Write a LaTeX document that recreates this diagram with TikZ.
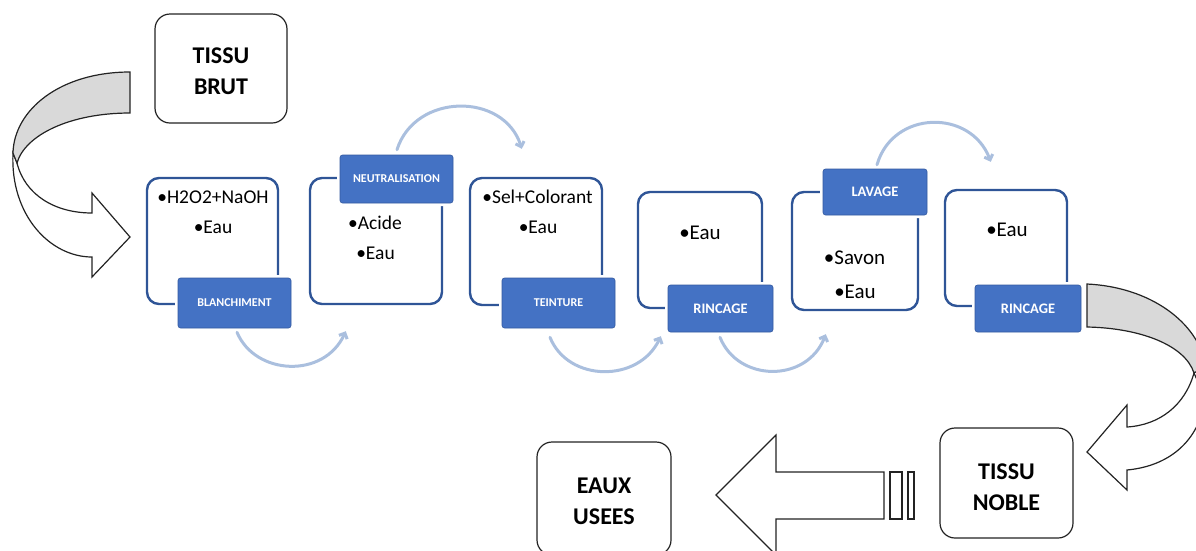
\documentclass[tikz,border=0pt]{standalone}
\usepackage{fontspec}
\setmainfont{Carlito}
\usetikzlibrary{arrows.meta,calc}

\definecolor{boxblue}{RGB}{47,85,151}
\definecolor{tagblue}{RGB}{68,114,196}
\definecolor{tagedge}{RGB}{52,90,160}
\definecolor{flowblue}{RGB}{170,191,222}
\definecolor{bandgray}{RGB}{217,217,217}
\definecolor{edgegray}{RGB}{35,35,35}

\begin{document}
\begin{tikzpicture}[x=1pt,y=-1pt,
  endbox/.style={draw=edgegray, line width=1.2pt, rounded corners=15pt, fill=white, inner sep=0pt},
  endtext/.style={align=center, inner sep=0pt, font=\fontsize{24}{31}\selectfont\bfseries},
  stagebox/.style={draw=boxblue, line width=2.4pt, rounded corners=12pt, inner sep=0pt},
  tag/.style={preaction={draw=white, fill=white, line width=6pt},
    fill=tagblue, draw=tagedge, line width=0.6pt, rounded corners=2.5pt,
    text=white, inner sep=0pt},
  smalltag/.style={tag, font=\fontsize{12}{14}\selectfont\bfseries},
  bigtag/.style={tag, font=\fontsize{14.5}{17}\selectfont\bfseries},
  itemA/.style={inner sep=0pt, font=\fontsize{19.5}{23}\selectfont},
  itemB/.style={inner sep=0pt, font=\fontsize{21}{25}\selectfont},
  flow/.style={draw=flowblue, line width=3pt, line cap=round,
    -{Straight Barb[length=4.5pt,width=9pt]}},
  block/.style={draw=edgegray, line width=1.2pt, line join=miter, fill=white},
  band/.style={draw=edgegray, line width=1.2pt, fill=bandgray}]

\useasboundingbox (0,0) rectangle (1196,550);
\clip (0,0) rectangle (1196,550);

% curved arrow from the raw fabric down to the first stage
\draw[block] (17,163) .. controls (25,195) and (55,213) .. (92,213) -- (92,193)
  -- (130,237) -- (92,277) -- (92,257) .. controls (50,257) and (10,215) .. (13,153) -- cycle;
\draw[band] (130,72) .. controls (60,72) and (14,110) .. (13,153) -- (17,163)
  .. controls (25,135) and (70,113) .. (130,113) -- cycle;

% curved arrow from the last rinse down to the finished fabric
\draw[band] (1087,284) .. controls (1150,287) and (1198,322) .. (1206,366) -- (1194,373)
  .. controls (1185,345) and (1140,328) .. (1087,327) -- cycle;
\draw[block] (1194,373) .. controls (1185,405) and (1160,425) .. (1127,427) -- (1127,405)
  -- (1087,452) -- (1127,490) -- (1127,470) .. controls (1170,466) and (1200,440) .. (1205,398) -- cycle;

% straight arrow towards the waste water
\draw[block] (716,495) -- (776,435) -- (776,472) -- (884,472) -- (884,519) -- (776,519) -- (776,555) -- cycle;
\draw[block] (890,472) rectangle (902,519);
\draw[block] (908,472) rectangle (914,519);

% end boxes
\node[endbox, minimum width=132pt, minimum height=109pt] (brut) at (221,68.5) {};
\node[endtext] (brutT) at (221,71.5) {TISSU\\BRUT};
\node[endbox, minimum width=133pt, minimum height=110pt] (noble) at (1006.5,483) {};
\node[endtext] (nobleT) at (1006.5,487) {TISSU\\NOBLE};
\node[endbox, minimum width=134pt, minimum height=113pt] (usees) at (604,498.5) {};
\node[endtext] (useesT) at (604,501.5) {EAUX\\USEES};

% process stages
\node[stagebox, minimum width=131pt, minimum height=126pt] (B1) at (212.5,241) {};
\node[stagebox, minimum width=132pt, minimum height=126pt] (B2) at (376,241) {};
\node[stagebox, minimum width=132pt, minimum height=127pt] (B3) at (536,241.5) {};
\node[stagebox, minimum width=124pt, minimum height=116pt] (B4) at (700,250) {};
\node[stagebox, minimum width=126pt, minimum height=118pt] (B5) at (855,251) {};
\node[stagebox, minimum width=122pt, minimum height=116pt] (B6) at (1006,248) {};

% stage names
\node[smalltag, minimum width=113pt, minimum height=50pt] (L1) at (234.5,303) {BLANCHIMENT};
\node[smalltag, minimum width=113pt, minimum height=48pt] (L2) at (396.5,179) {NEUTRALISATION};
\node[smalltag, minimum width=113pt, minimum height=50pt] (L3) at (558.5,303) {TEINTURE};
\node[bigtag, minimum width=105pt, minimum height=47pt] (L4) at (720.5,308.5) {RINCAGE};
\node[bigtag, minimum width=104pt, minimum height=46pt] (L5) at (875,192) {LAVAGE};
\node[bigtag, minimum width=106pt, minimum height=47pt] (L6) at (1028,308.5) {RINCAGE};

% inputs of each stage
\node[itemA] (i1a) at (213,197) {•H2O2+NaOH};
\node[itemA] (i1b) at (213,227) {•Eau};
\node[itemA] (i2a) at (375,223) {•Acide};
\node[itemA] (i2b) at (375.5,253) {•Eau};
\node[itemA] (i3a) at (537.5,197) {•Sel+Colorant};
\node[itemA] (i3b) at (538,227) {•Eau};
\node[itemB] (i4a) at (700,233) {•Eau};
\node[itemB] (i5a) at (854.5,258) {•Savon};
\node[itemB] (i5b) at (855,292) {•Eau};
\node[itemB] (i6a) at (1007,230) {•Eau};

% sequence arrows between stages
\draw[flow] ($(L1.south)+(2.5,4)$) .. controls +(18,43) and +(-22,48) .. ($(B2.south west)+(37,26)$);
\draw[flow] ($(L2.north)+(0.5,-5)$) .. controls +(18,-57) and +(-18,-57) .. ($(B3.north west)+(53,-28)$);
\draw[flow] ($(L3.south)+(-8.5,9)$) .. controls +(18,45) and +(-22,47) .. ($(B4.south west)+(24,27)$);
\draw[flow] ($(L4.south)+(-0.5,5)$) .. controls +(18,45) and +(-19,49) .. ($(B5.south west)+(35,23)$);
\draw[flow] ($(L5.north)+(2,-4)$) .. controls +(16,-55) and +(-20,-53) .. ($(B6.north west)+(47,-27)$);

\end{tikzpicture}
\end{document}
